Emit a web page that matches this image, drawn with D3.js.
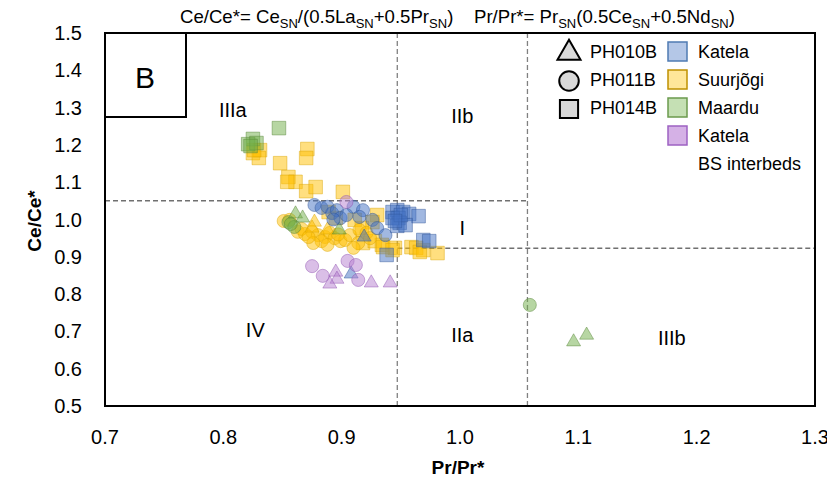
<!DOCTYPE html>
<html>
<head>
<meta charset="utf-8">
<script src="https://cdn.jsdelivr.net/npm/d3@7"></script>
<style>
  body { margin: 0; background: #fff; }
  svg { font-family: "Liberation Sans", Arial, sans-serif; }
</style>
</head>
<body>
<script>
// data: [Pr/Pr*, Ce/Ce*]
var katelaTri = [[0.919, 0.953], [0.908, 0.854]];
var katelaCirc = [[0.877, 1.039], [0.883, 1.031], [0.888, 1.034], [0.892, 1.017], [0.896, 1.025],
    [0.899, 1.004], [0.910, 1.034], [0.918, 1.025], [0.915, 1.007], [0.904, 1.012],
    [0.926, 0.999], [0.930, 0.977], [0.937, 0.958], [0.893, 1.000]];
var katelaSq = [[0.943, 1.020], [0.947, 1.025], [0.952, 1.020], [0.957, 1.015], [0.965, 1.009],
    [0.948, 1.004], [0.943, 1.004], [0.949, 0.991], [0.947, 0.983], [0.954, 0.985],
    [0.950, 1.012], [0.945, 0.996], [0.969, 0.945], [0.974, 0.942], [0.938, 0.905]];

var suurTri = [[0.877, 0.993], [0.875, 0.977], [0.888, 0.972]];
var suurCirc = [[0.851, 0.996], [0.856, 0.999], [0.863, 0.967], [0.869, 0.961], [0.875, 0.967],
    [0.880, 0.958], [0.886, 0.953], [0.890, 0.964], [0.894, 0.950], [0.899, 0.942],
    [0.883, 0.942], [0.876, 0.937], [0.888, 0.932], [0.903, 0.945], [0.907, 0.958],
    [0.915, 0.972], [0.921, 0.964], [0.914, 0.937], [0.924, 0.950], [0.910, 0.924],
    [0.866, 0.975], [0.872, 0.953], [0.897, 0.960]];
var suurSq = [[0.825, 1.178], [0.831, 1.186], [0.830, 1.165], [0.826, 1.186], [0.871, 1.189],
    [0.870, 1.165], [0.848, 1.151], [0.855, 1.114], [0.861, 1.101], [0.854, 1.101],
    [0.870, 1.076], [0.878, 1.087], [0.901, 1.074],
    [0.889, 1.020], [0.895, 1.004], [0.911, 0.999], [0.930, 1.012], [0.926, 0.993],
    [0.917, 0.977], [0.918, 0.937], [0.928, 0.942], [0.934, 0.932], [0.945, 0.924],
    [0.935, 0.926], [0.943, 0.918], [0.959, 0.926], [0.963, 0.924], [0.969, 0.918],
    [0.966, 0.913], [0.981, 0.910]];

var maarduTri = [[0.861, 1.015], [0.867, 1.004], [0.898, 0.972], [1.096, 0.672], [1.107, 0.690]];
var maarduCirc = [[0.855, 0.993], [0.860, 0.980], [0.857, 0.988], [1.059, 0.771]];
var maarduSq = [[0.847, 1.245], [0.825, 1.216], [0.821, 1.202], [0.828, 1.205], [0.823, 1.197]];

var bsTri = [[0.895, 0.859], [0.896, 0.840], [0.890, 0.827], [0.925, 0.830], [0.941, 0.830]];
var bsCirc = [[0.904, 1.047], [0.875, 0.875], [0.884, 0.849], [0.905, 0.889], [0.912, 0.878], [0.914, 0.838]];

var xTicks = [0.7, 0.8, 0.9, 1.0, 1.1, 1.2, 1.3];
var yTicks = [0.5, 0.6, 0.7, 0.8, 0.9, 1.0, 1.1, 1.2, 1.3, 1.4, 1.5];

// field boundaries
var vLines = [0.947, 1.057];
var hLines = [[0.7, 1.057, 1.05], [0.947, 1.3, 0.923]];   // [x0, x1, y]
var fieldNames = ["IIIa", "IIb", "I", "IV", "IIa", "IIIb"];
var fieldPos = [[0.808, 1.294], [1.002, 1.277], [1.002, 0.977], [0.827, 0.704], [1.002, 0.690], [1.179, 0.682]];

var sampleNames = ["PH010B", "PH011B", "PH014B"];
var siteNames = ["Katela", "Suurjõgi", "Maardu", "Katela"];

var margin = {top: 33, right: 12, bottom: 81, left: 105},
    width = 827 - margin.left - margin.right,
    height = 487 - margin.top - margin.bottom;

var svg = d3.select("body").append("svg")
    .attr("width", 827)
    .attr("height", 487);

var x = d3.scaleLinear().domain([0.7, 1.3]).range([0, width]);
var y = d3.scaleLinear().domain([0.5, 1.5]).range([height, 0]);

var g = svg.append("g")
    .attr("transform", "translate(" + margin.left + "," + margin.top + ")");

// dashed field lines
g.selectAll(".vline").data(vLines).enter().append("line")
    .attr("x1", function(d) { return x(d); })
    .attr("x2", function(d) { return x(d); })
    .attr("y1", 0).attr("y2", height)
    .style("stroke", "#808080").style("stroke-width", 1.3)
    .style("stroke-dasharray", "5,3");
g.selectAll(".hline").data(hLines).enter().append("line")
    .attr("x1", function(d) { return x(d[0]); })
    .attr("x2", function(d) { return x(d[1]); })
    .attr("y1", function(d) { return y(d[2]); })
    .attr("y2", function(d) { return y(d[2]); })
    .style("stroke", "#707070").style("stroke-width", 1.5)
    .style("stroke-dasharray", "5,3");

// field labels
g.selectAll(".field").data(fieldNames).enter().append("text")
    .attr("x", function(d, i) { return x(fieldPos[i][0]); })
    .attr("y", function(d, i) { return y(fieldPos[i][1]); })
    .attr("dy", "0.35em")
    .attr("text-anchor", "middle")
    .style("font-size", "20px")
    .text(function(d) { return d; });

// point groups
var colors = {
    katela: {fill: "#4472c4", stroke: "#2f5597"},
    suur: {fill: "#ffc000", stroke: "#d9a300"},
    maardu: {fill: "#70ad47", stroke: "#548235"},
    bs: {fill: "#b57fd0", stroke: "#8e4fb0"}
};
var shapes = {
    tri: d3.symbol().type(d3.symbolTriangle).size(85),
    circ: d3.symbol().type(d3.symbolCircle).size(135),
    sq: d3.symbol().type(d3.symbolSquare).size(185)
};
var groups = [
    [suurSq, "sq", "suur"], [suurCirc, "circ", "suur"], [suurTri, "tri", "suur"],
    [maarduSq, "sq", "maardu"], [maarduCirc, "circ", "maardu"], [maarduTri, "tri", "maardu"],
    [katelaCirc, "circ", "katela"], [katelaSq, "sq", "katela"], [katelaTri, "tri", "katela"],
    [bsCirc, "circ", "bs"], [bsTri, "tri", "bs"]
];
groups.forEach(function(grp) {
    var c = colors[grp[2]];
    g.append("g").selectAll("path").data(grp[0]).enter().append("path")
        .attr("d", shapes[grp[1]])
        .attr("transform", function(d) {
            return "translate(" + x(d[0]) + "," + y(d[1]) + ")"; })
        .style("fill", c.fill).style("fill-opacity", 0.5)
        .style("stroke", c.stroke).style("stroke-opacity", 0.45)
        .style("stroke-width", 1);
});

// frame
g.append("rect")
    .attr("width", width).attr("height", height)
    .style("fill", "none").style("stroke", "#000").style("stroke-width", 2);

// panel letter box
g.append("rect")
    .attr("width", 81).attr("height", 84)
    .style("fill", "#fff").style("stroke", "#000").style("stroke-width", 2);
g.append("text")
    .attr("x", 40).attr("y", 44).attr("dy", "0.35em")
    .attr("text-anchor", "middle")
    .style("font-size", "30px")
    .text("B");

// axes (labels only)
g.append("g").selectAll("text").data(xTicks).enter().append("text")
    .attr("x", function(d) { return x(d); })
    .attr("y", height + 38)
    .attr("text-anchor", "middle")
    .style("font-size", "20px")
    .text(function(d) { return d.toFixed(1); });
g.append("g").selectAll("text").data(yTicks).enter().append("text")
    .attr("x", -23)
    .attr("y", function(d) { return y(d); })
    .attr("dy", "0.35em")
    .attr("text-anchor", "end")
    .style("font-size", "20px")
    .text(function(d) { return d.toFixed(1); });

svg.append("text")
    .attr("x", 458).attr("y", 474)
    .attr("text-anchor", "middle")
    .style("font-size", "19px").style("font-weight", "bold")
    .text("Pr/Pr*");
svg.append("text")
    .attr("transform", "translate(41,221) rotate(-90)")
    .attr("text-anchor", "middle")
    .style("font-size", "19px").style("font-weight", "bold")
    .text("Ce/Ce*");

// formula header
var head = svg.append("text")
    .attr("x", 180).attr("y", 23)
    .style("font-size", "18.6px")
    .style("white-space", "pre");
var parts = [["Ce/Ce*= Ce", 0], ["SN", 1], ["/(0.5La", 0], ["SN", 1], ["+0.5Pr", 0], ["SN", 1],
    [")    Pr/Pr*= Pr", 0], ["SN", 1], ["(0.5Ce", 0], ["SN", 1], ["+0.5Nd", 0], ["SN", 1], [")", 0]];
parts.forEach(function(p, i) {
    var t = head.append("tspan").text(p[0]);
    if (p[1]) {
        t.attr("dy", 5).style("font-size", "13px");
    } else if (i > 0) {
        t.attr("dy", -5);
    }
});

// legend
var leg = svg.append("g");
var legTypes = [d3.symbolTriangle, d3.symbolCircle, d3.symbolSquare];
var legSizes = [230, 300, 330];
leg.selectAll(".ls").data(sampleNames).enter().append("path")
    .attr("d", function(d, i) {
        return d3.symbol().type(legTypes[i]).size(legSizes[i])();
    })
    .attr("transform", function(d, i) { return "translate(569," + (53 + i * 28) + ")"; })
    .style("fill", "#d9d9d9").style("stroke", "#000").style("stroke-width", 2);
leg.selectAll(".lt").data(sampleNames).enter().append("text")
    .attr("x", 590).attr("y", function(d, i) { return 52 + i * 28; })
    .attr("dy", "0.35em")
    .style("font-size", "18px")
    .text(function(d) { return d; });

var legFill = ["#b4c7e7", "#ffe699", "#c5e0b4", "#d5b1e6"];
var legStroke = ["#4f7bb3", "#bf9000", "#6b9a4d", "#9d62c2"];
leg.selectAll(".cs").data(siteNames).enter().append("rect")
    .attr("x", 668).attr("y", function(d, i) { return 42 + i * 28; })
    .attr("width", 19).attr("height", 19)
    .style("fill", function(d, i) { return legFill[i]; })
    .style("stroke", function(d, i) { return legStroke[i]; })
    .style("stroke-width", 1.5);
leg.selectAll(".ct").data(siteNames).enter().append("text")
    .attr("x", 698).attr("y", function(d, i) { return 52 + i * 28; })
    .attr("dy", "0.35em")
    .style("font-size", "18px")
    .text(function(d) { return d; });
leg.append("text")
    .attr("x", 698).attr("y", 164).attr("dy", "0.35em")
    .style("font-size", "18px")
    .text("BS interbeds");
</script>
</body>
</html>
